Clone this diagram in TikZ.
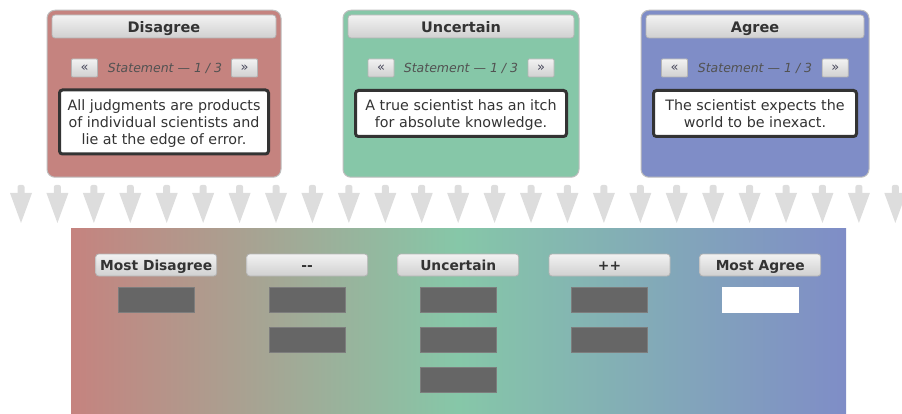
\documentclass[tikz,border=0pt]{standalone}
\usepackage{fontspec}
\setmainfont{DejaVu Sans}

\definecolor{disred}{RGB}{197,131,127}
\definecolor{uncgreen}{RGB}{134,199,168}
\definecolor{agrblue}{RGB}{127,141,199}
\definecolor{panelrim}{RGB}{190,190,190}
\definecolor{ink}{RGB}{51,51,51}
\definecolor{navink}{RGB}{70,70,90}
\definecolor{btntop}{RGB}{242,242,242}
\definecolor{btnbot}{RGB}{208,208,208}
\definecolor{btnrim}{RGB}{180,180,180}
\definecolor{slotgray}{RGB}{102,102,102}
\definecolor{arrowgray}{RGB}{221,221,221}

% horizontal colour band: disagree -> uncertain -> agree
% (TikZ maps the 25bp..75bp part of the shading onto the path)
\pgfdeclarehorizontalshading{opinionband}{100bp}{
  color(0bp)=(disred); color(25bp)=(disred); color(50bp)=(uncgreen);
  color(75bp)=(agrblue); color(100bp)=(agrblue)}

\tikzset{
  panel/.style={draw=panelrim, line width=1pt, rounded corners=8pt,
    inner sep=0pt, anchor=center},
  btn/.style={draw=btnrim, line width=0.8pt, rounded corners=3pt,
    top color=btntop, bottom color=btnbot, inner sep=0pt,
    text=ink, anchor=center},
  header/.style={btn, minimum height=23pt, text height=12pt, text depth=0.4pt,
    font=\fontsize{14.5}{16}\selectfont\bfseries},
  navbtn/.style={btn, rounded corners=1pt, minimum width=26pt,
    minimum height=18pt, text=navink, font=\fontsize{13}{13}\selectfont},
  navlabel/.style={text=ink!85, font=\fontsize{12.5}{14}\selectfont\itshape,
    inner sep=0pt, anchor=base},
  card/.style={draw=ink, line width=3pt, rounded corners=3pt, fill=white,
    inner sep=0pt},
  cardtext/.style={inner sep=0pt, anchor=base, text=ink,
    font=\fontsize{14.3}{17}\selectfont},
  colhead/.style={btn, minimum width=121pt, minimum height=22pt,
    text height=11.8pt, text depth=0.4pt,
    font=\fontsize{13.8}{15}\selectfont\bfseries},
  slot/.style={draw=slotgray!85!white, line width=0.6pt, fill=slotgray,
    minimum width=76pt, minimum height=25pt, inner sep=0pt},
  freeslot/.style={slot, fill=white, draw=white},
  downarrow/.pic={
    \fill[arrowgray, rounded corners=2pt] (-3.5,185) -- (-3.5,195) -- (3.5,195) -- (3.5,185) -- cycle;
    \fill[arrowgray] (-11,193) -- (11,193) -- (0,223) -- cycle;
  }
}
% centred multi-line block whose baseline is its first line
\newcommand{\cardlines}[2]{\parbox[t]{#1}{\centering #2}}

\begin{document}
\begin{tikzpicture}[x=1pt, y=-1pt]
\useasboundingbox (0,0) rectangle (902,414);

% ---------- three sorting piles ----------
\node[panel, fill=disred,   minimum width=234pt, minimum height=167pt] (pdis) at (164,93.75) {};
\node[panel, fill=uncgreen, minimum width=236pt, minimum height=167pt] (punc) at (461,93.75) {};
\node[panel, fill=agrblue,  minimum width=228pt, minimum height=167pt] (pagr) at (755,93.75) {};

\node[header, minimum width=224pt] (hdis) at (164,26.5) {Disagree};
\node[header, minimum width=226pt] (hunc) at (461,26.5) {Uncertain};
\node[header, minimum width=218pt] (hagr) at (755,26.5) {Agree};

% pager rows
\node[navbtn] (dprev) at (84.5,68) {«};
\node[navlabel] (dlab) at (165,73) {Statement — 1 / 3};
\node[navbtn] (dnext) at (244.5,68) {»};

\node[navbtn] (uprev) at (381,68) {«};
\node[navlabel] (ulab) at (461,73) {Statement — 1 / 3};
\node[navbtn] (unext) at (541,68) {»};

\node[navbtn] (aprev) at (674.5,68) {«};
\node[navlabel] (alab) at (755,73) {Statement — 1 / 3};
\node[navbtn] (anext) at (835.3,68) {»};

% statement cards
\node[card, minimum width=209pt, minimum height=64pt] (cdis) at (164,122) {};
\node[card, minimum width=211pt, minimum height=46pt] (cunc) at (461,113.5) {};
\node[card, minimum width=203pt, minimum height=46pt] (cagr) at (755,113.5) {};

\node[cardtext] (tdis) at (164,111)
  {\cardlines{205pt}{All judgments are products\\of individual scientists and\\lie at the edge of error.}};
\node[cardtext] (tunc) at (461,111)
  {\cardlines{205pt}{A true scientist has an itch\\for absolute knowledge.}};
\node[cardtext] (tagr) at (755,111)
  {\cardlines{200pt}{The scientist expects the\\world to be inexact.}};

% ---------- row of down arrows ----------
\foreach \k in {0,...,24}{
  \pic at ({21+36.43*\k},0) {downarrow};
}

% ---------- sorting grid ----------
\shade[shading=opinionband] (71,229) rectangle (846,414);
\node[inner sep=0pt, minimum width=775pt, minimum height=185pt] (grid) at (458.5,321.5) {};

\node[colhead] (c1) at (156.2,265) {Most Disagree};
\node[colhead] (c2) at (307.2,265) {-{}-};
\node[colhead] (c3) at (458.2,265) {Uncertain};
\node[colhead] (c4) at (609.5,265) {++};
\node[colhead] (c5) at (760.2,265) {Most Agree};

\node[slot] (s11) at (156.5,300.2) {};

\node[slot] (s21) at (307.3,300.2) {};
\node[slot] (s22) at (307.3,339.8) {};

\node[slot] (s31) at (458.3,300.2) {};
\node[slot] (s32) at (458.3,339.8) {};
\node[slot] (s33) at (458.3,379.5) {};

\node[slot] (s41) at (609.5,300.2) {};
\node[slot] (s42) at (609.5,339.8) {};

\node[freeslot] (s51) at (760.3,300.2) {};
\end{tikzpicture}
\end{document}
